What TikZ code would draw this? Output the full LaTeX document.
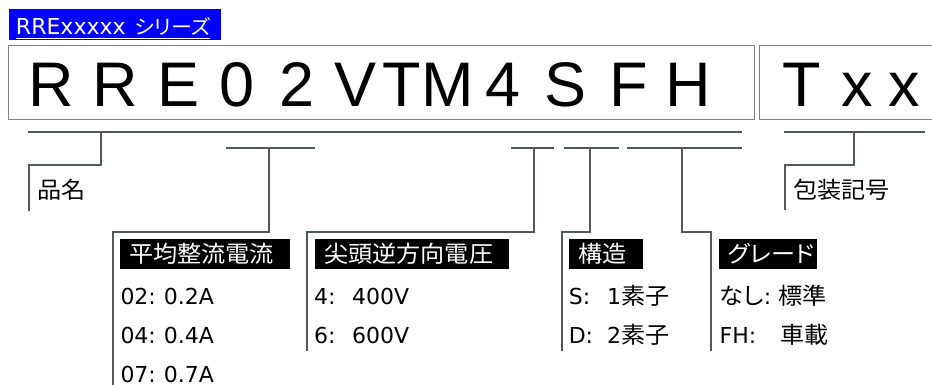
\documentclass[tikz,border=0pt]{standalone}
\usepackage{fontspec}
\setmainfont{DejaVu Sans}
\newfontfamily\jpf[FakeStretch=1.05]{Noto Sans CJK JP}
\newfontfamily\jpp[FakeStretch=1.05,RawFeature=+palt]{Noto Sans CJK JP}
\newfontfamily\latf{DejaVu Sans}
\newfontfamily\bigf{Liberation Sans}
\definecolor{conncol}{HTML}{505860}
\definecolor{boxcol}{HTML}{7C8389}
\definecolor{bannerblue}{HTML}{0000FF}
\newcommand{\jtxt}[1]{{\jpf\fontsize{23}{26}\selectfont #1}}
\newcommand{\jptxt}[1]{{\jpp\fontsize{23}{26}\selectfont #1}}
\newcommand{\colitem}[3]{\makebox[#1][l]{#2}#3}
\tikzset{
  conn/.style={draw=conncol, line width=2.2pt},
  codebox/.style={draw=boxcol, line width=1pt},
  ch/.style={font=\bigf\fontsize{63}{70}\selectfont, inner sep=0pt, anchor=base},
  hdr/.style={anchor=north west, fill=black, text=white, minimum height=30.7pt,
    inner xsep=9pt, inner ysep=0pt, align=left, font=\jpf\fontsize{23}{26}\selectfont},
  hdrk/.style={hdr, font=\jpp\fontsize{23}{26}\selectfont},
  item/.style={anchor=base west, inner sep=0pt, font=\latf\fontsize{22}{26}\selectfont},
  lbl/.style={anchor=west, inner sep=0pt, font=\jpf\fontsize{23}{26}\selectfont},
}
\begin{document}
\begin{tikzpicture}[x=1pt,y=-1pt]
\useasboundingbox (0,0) rectangle (932,385);
\clip (0,0) rectangle (932,385);
% banner
\fill[bannerblue] (9,9) rectangle (221,40);
\node[anchor=base west, inner sep=0pt, text=white] (ban) at (15.8,34.3)
  {{\latf\fontsize{22}{26}\selectfont RRExxxxx}\hspace{9pt}{\jpp\fontsize{20}{23}\selectfont シリーズ}};
\draw[white, line width=1pt] ([yshift=-4pt]ban.base west) -- ([yshift=-4pt]ban.base east);
% code boxes
\draw[codebox] (8,45.7) rectangle (754,120);
\draw[codebox] (759,45.7) rectangle (940,120);
\node[ch] (c1) at (51.7,106.7) {R};
\node[ch] (c2) at (115,106.7) {R};
\node[ch] (c3) at (179,106.7) {E};
\node[ch] (c4) at (236.6,106.7) {0};
\node[ch] (c5) at (296.7,106.7) {2};
\node[ch] (c6) at (356,106.7) {V};
\node[ch] (c7) at (402,106.7) {T};
\node[ch] (c8) at (448,106.7) {M};
\node[ch] (c9) at (503,106.7) {4};
\node[ch] (c10) at (566,106.7) {S};
\node[ch] (c11) at (629,106.7) {F};
\node[ch] (c12) at (688.5,106.7) {H};
\node[ch] (t1) at (802,106.7) {T};
\node[ch] (t2) at (857.5,106.7) {x};
\node[ch] (t3) at (904,106.7) {x};
% underline levels
\coordinate (L1w) at (28,132.3);   \coordinate (L1e) at (742,132.3);
\coordinate (Tw) at (784,132.3);   \coordinate (Te) at (925,132.3);
\coordinate (S1w) at (225.7,148.3); \coordinate (S1e) at (315,148.3);
\coordinate (S2w) at (511,148.3);  \coordinate (S2e) at (554,148.3);
\coordinate (S3w) at (564,148.3);  \coordinate (S3e) at (619,148.3);
\coordinate (S4w) at (627,148.3);  \coordinate (S4e) at (742,148.3);
\draw[conn] (L1w) -- (L1e);
\draw[conn] (Tw) -- (Te);
\draw[conn] (S1w) -- (S1e);
\draw[conn] (S2w) -- (S2e);
\draw[conn] (S3w) -- (S3e);
\draw[conn] (S4w) -- (S4e);
% tap points and ends
\coordinate (p0) at (100.7,132.3);  \coordinate (e0) at (29,210.7);
\coordinate (p1) at (269,148.3);    \coordinate (e1) at (112.7,386);
\coordinate (p2) at (534,148.3);    \coordinate (e2) at (307,351);
\coordinate (p3) at (590,148.3);    \coordinate (e3) at (562,351);
\coordinate (p4) at (682,148.3);    \coordinate (e4) at (711,351);
\coordinate (p5) at (854,132.3);    \coordinate (e5) at (785,210);
\draw[conn] (p0) -- (100.7,165) -| (e0);
\draw[conn] (p1) -- (269,232) -| (e1);
\draw[conn] (p2) -- (534,232) -| (e2);
\draw[conn] (p3) -- (590,232) -| (e3);
\draw[conn] (p4) -- (682,232) -| (e4);
\draw[conn] (p5) -- (854,165) -| (e5);
% labels
\node[lbl] (hin) at (37,189.5) {品名};
\node[lbl] (hou) at (793,189.5) {包装記号};
% headers
\node[hdr, text width=152pt] (h1) at (120,238.3) {平均整流電流};
\node[hdr, text width=176pt] (h2) at (315,238.3) {尖頭逆方向電圧};
\node[hdr, text width=56pt] (h3) at (569,238.3) {構造};
\node[hdrk, text width=80pt] (h4) at (719,238.3) {グレード};
% items
\node[item] (a1) at (120.3,304.3) {\colitem{43.3pt}{02:}{0.2A}};
\node[item] (a2) at (120.3,343.3) {\colitem{43.3pt}{04:}{0.4A}};
\node[item] (a3) at (120.3,382.8) {\colitem{43.3pt}{07:}{0.7A}};
\node[item] (b1) at (314,304.3) {\colitem{38pt}{4:}{400V}};
\node[item] (b2) at (314,343.3) {\colitem{38pt}{6:}{600V}};
\node[item] (d1) at (568.6,304.3) {\colitem{38.4pt}{S:}{1\jtxt{素子}}};
\node[item] (d2) at (568.6,343.3) {\colitem{38.4pt}{D:}{2\jtxt{素子}}};
\node[item] (g1) at (719.5,304.3) {\colitem{59pt}{\jptxt{なし}:}{\jtxt{標準}}};
\node[item] (g2) at (719.5,343.3) {\colitem{60.5pt}{FH:}{\jtxt{車載}}};
\end{tikzpicture}
\end{document}
